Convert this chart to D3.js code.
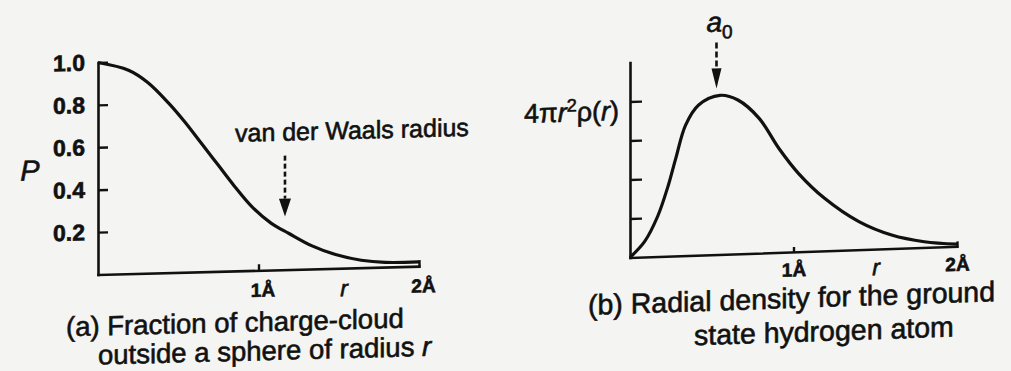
<!DOCTYPE html>
<html>
<head>
<meta charset="utf-8">
<script src="https://cdn.jsdelivr.net/npm/d3@7"></script>
<style>
  html, body { margin: 0; padding: 0; background: #f4f4f2; }
  svg { display: block; font-family: "Liberation Sans", Arial, Helvetica, sans-serif; }
  text { fill: #111; stroke: #111; stroke-width: 0.6px; }
</style>
</head>
<body>
<svg id="fig" width="1011" height="371"></svg>
<script>
// (a) fraction of charge cloud outside a sphere of radius r
const radiusA = [0, 0.19, 0.31, 0.44, 0.54, 0.65, 0.75, 0.85, 0.96, 1.08, 1.19, 1.33, 1.48, 1.64, 1.79, 2.0];
const fractionA = [1.0, 0.96, 0.90, 0.80, 0.71, 0.60, 0.50, 0.40, 0.30, 0.22, 0.17, 0.11, 0.065, 0.035, 0.022, 0.02];
const yTicksA = [0.2, 0.4, 0.6, 0.8, 1.0];
const vdwRadius = 1.165;

// (b) radial density 4πr²ρ(r) for the hydrogen ground state
const radiusB = [0, 0.09, 0.17, 0.23, 0.28, 0.34, 0.42, 0.55, 0.66, 0.79, 0.91, 1.03, 1.19, 1.40, 1.60, 1.80, 2.0];
const densityB = [0, 0.10, 0.26, 0.44, 0.626, 0.837, 0.963, 1.02, 0.986, 0.864, 0.668, 0.503, 0.337, 0.18, 0.087, 0.037, 0.014];
const yTicksB = [0.25, 0.5, 0.75, 1.0];
const bohrRadius = 0.529;

const xTicks = [1, 2];
const ink = "#111";

const svg = d3.select("#fig");

// Each panel sits in its own slightly sheared frame (origin at the axis corner).
function panel(ox, oy, slope) {
  const deg = -Math.atan(slope) * 180 / Math.PI;
  return svg.append("g").attr("transform", `translate(${ox},${oy}) skewY(${deg})`);
}

function styleAxis(g, fontSize, weight) {
  g.select(".domain").attr("stroke", ink).attr("stroke-width", 2.6).attr("stroke-linecap", "square");
  g.selectAll(".tick line").attr("stroke", ink).attr("stroke-width", 2.4);
  g.selectAll(".tick text").attr("font-size", fontSize)
    .attr("font-weight", weight).attr("font-family", "Liberation Sans, Arial, sans-serif");
}

function dashedArrow(g, x, tipY, shaft, head, headW, dash) {
  g.append("line")
    .attr("x1", x).attr("x2", x)
    .attr("y1", tipY - head - shaft).attr("y2", tipY - head)
    .attr("stroke", ink).attr("stroke-width", 2.6)
    .attr("stroke-dasharray", dash);
  g.append("path")
    .attr("d", `M${x - headW / 2},${tipY - head} L${x + headW / 2},${tipY - head} L${x},${tipY} Z`)
    .attr("fill", ink);
}

const smooth = d3.curveCatmullRom.alpha(0.5);

// ---------- panel (a) ----------
const gA = panel(98, 274.5, 0.026);
const xA = d3.scaleLinear().domain([0, 2]).range([0, 321]);
const yA = d3.scaleLinear().domain([0, 1]).range([0, -212]);

gA.append("g")
  .call(d3.axisLeft(yA).tickValues(yTicksA).tickFormat(d3.format(".1f"))
    .tickSizeInner(-10).tickSizeOuter(0).tickPadding(13))
  .call(g => styleAxis(g, 23, "bold"));

gA.append("g")
  .call(d3.axisBottom(xA).tickValues(xTicks).tickFormat(d => d + "Å")
    .tickSizeInner(-6).tickSizeOuter(0).tickPadding(13))
  .call(g => styleAxis(g, 19, "bold"))
  .call(g => g.selectAll(".tick text").attr("dx", 4));

gA.append("path")
  .datum(radiusA.map((r, i) => [r, fractionA[i]]))
  .attr("fill", "none").attr("stroke", ink).attr("stroke-width", 3.2)
  .attr("stroke-linejoin", "round")
  .attr("d", d3.line().x(d => xA(d[0])).y(d => yA(d[1])).curve(smooth));

gA.append("text").attr("x", -68).attr("y", -106).attr("dy", "0.35em")
  .attr("text-anchor", "middle").attr("font-size", 29).attr("font-style", "italic")
  .text("P");

gA.append("text").attr("x", 246).attr("y", 28)
  .attr("text-anchor", "middle").attr("font-size", 23).attr("font-style", "italic")
  .text("r");

// van der Waals radius marker
const vdwX = xA(vdwRadius);
const vdwP = fractionA[d3.bisectLeft(radiusA, vdwRadius)];
dashedArrow(gA, vdwX, yA(vdwP) - 17, 43, 18, 12, "5,3");
gA.append("text").attr("x", vdwX - 50).attr("y", -129)
  .attr("font-size", 25).text("van der Waals radius");

// caption (a)
const capA = gA.append("text").attr("font-size", 27.5);
capA.append("tspan").attr("x", -32).attr("y", 61).text("(a) Fraction of charge-cloud");
const capA2 = capA.append("tspan").attr("x", 0).attr("y", 90);
capA2.append("tspan").text("outside a sphere of radius ");
capA2.append("tspan").attr("font-style", "italic").text("r");

// ---------- panel (b) ----------
const gB = panel(630, 257.5, 0.034);
const xB = d3.scaleLinear().domain([0, 2]).range([0, 327]);
const yB = d3.scaleLinear().domain([0, 1.25]).range([0, -195]);

gB.append("g")
  .call(d3.axisLeft(yB).tickValues(yTicksB).tickFormat("")
    .tickSizeInner(-12).tickSizeOuter(0))
  .call(g => styleAxis(g, 19, "bold"));

gB.append("g")
  .call(d3.axisBottom(xB).tickValues(xTicks).tickFormat(d => d + "Å")
    .tickSizeInner(-5).tickSizeOuter(0).tickPadding(11))
  .call(g => styleAxis(g, 19, "bold"));

gB.append("path")
  .datum(radiusB.map((r, i) => [r, densityB[i]]))
  .attr("fill", "none").attr("stroke", ink).attr("stroke-width", 3.2)
  .attr("stroke-linejoin", "round")
  .attr("d", d3.line().x(d => xB(d[0])).y(d => yB(d[1])).curve(smooth));

gB.append("text").attr("x", 246).attr("y", 26)
  .attr("text-anchor", "middle").attr("font-size", 23).attr("font-style", "italic")
  .text("r");

// y-axis label 4πr²ρ(r)
const yLab = gB.append("text").attr("x", -11).attr("y", -138)
  .attr("text-anchor", "end").attr("font-size", 27);
yLab.append("tspan").text("4π");
yLab.append("tspan").attr("font-style", "italic").text("r");
yLab.append("tspan").attr("font-size", 18).attr("dy", -10).text("2");
yLab.append("tspan").attr("dy", 10).text("ρ(");
yLab.append("tspan").attr("font-style", "italic").text("r");
yLab.append("tspan").text(")");

// Bohr radius marker at the density maximum
const peak = d3.max(densityB);
const a0X = xB(bohrRadius);
dashedArrow(gB, a0X, yB(peak) - 7, 26, 20, 10, "6,3");
const a0Lab = gB.append("text").attr("x", a0X - 10).attr("y", -223)
  .attr("font-size", 28).attr("font-style", "italic");
a0Lab.append("tspan").text("a");
a0Lab.append("tspan").attr("font-size", 19).attr("font-style", "normal").attr("dy", 7).text("0");

// caption (b)
const capB = gB.append("text").attr("font-size", 28.5);
capB.append("tspan").attr("x", -42).attr("y", 56).text("(b) Radial density for the ground");
capB.append("tspan").attr("x", 64).attr("y", 90).text("state hydrogen atom");
</script>
</body>
</html>
